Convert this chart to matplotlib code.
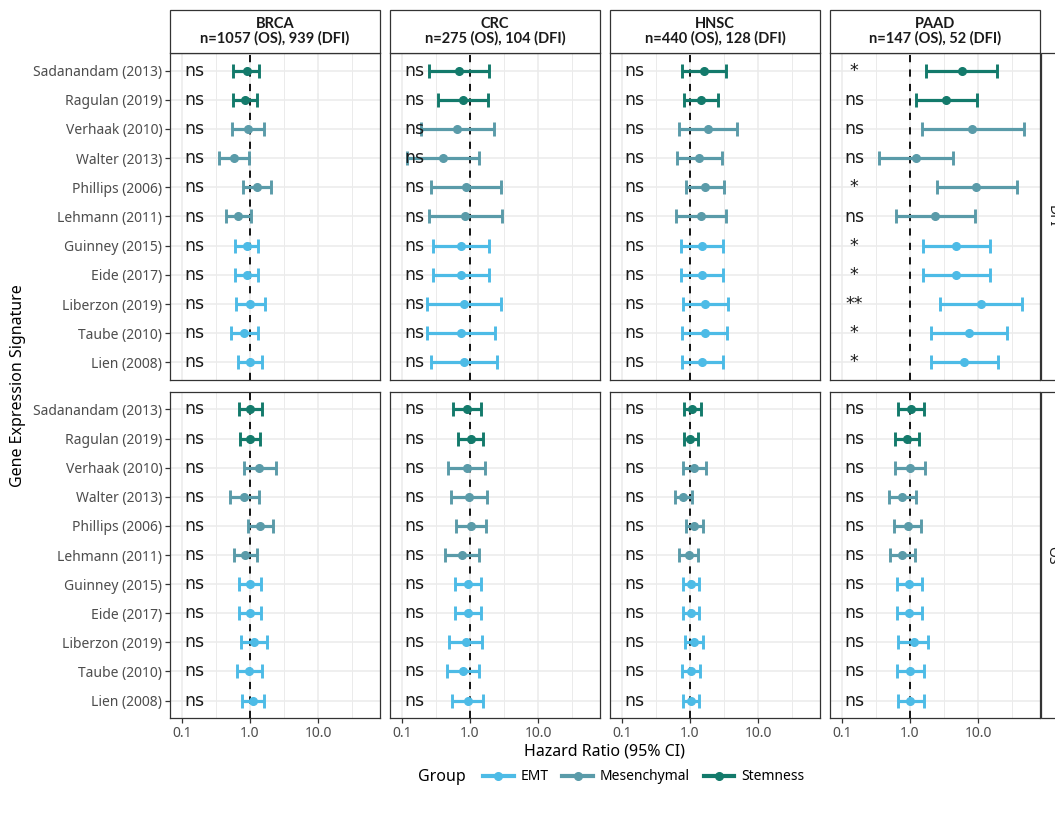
import matplotlib
matplotlib.use("Agg")
import matplotlib.pyplot as plt
from matplotlib.lines import Line2D
from matplotlib.patches import Rectangle

# signatures, top to bottom
signatures = ["Sadanandam (2013)", "Ragulan (2019)", "Verhaak (2010)", "Walter (2013)",
              "Phillips (2006)", "Lehmann (2011)", "Guinney (2015)", "Eide (2017)",
              "Liberzon (2019)", "Taube (2010)", "Lien (2008)"]
groups = ["Stemness", "Stemness", "Mesenchymal", "Mesenchymal", "Mesenchymal", "Mesenchymal",
          "EMT", "EMT", "EMT", "EMT", "EMT"]
group_colors = {"EMT": "#4DBBE6", "Mesenchymal": "#5A9BA9", "Stemness": "#137A6B"}

cancers = ["BRCA", "CRC", "HNSC", "PAAD"]
strip_titles = ["n=1057 (OS), 939 (DFI)", "n=275 (OS), 104 (DFI)",
                "n=440 (OS), 128 (DFI)", "n=147 (OS), 52 (DFI)"]
endpoints = ["DFI", "OS"]

# DFI
brca_dfi_hr = [0.89, 0.84, 0.95, 0.59, 1.25, 0.67, 0.89, 0.89, 1.00, 0.83, 1.00]
brca_dfi_lo = [0.57, 0.57, 0.54, 0.35, 0.78, 0.44, 0.60, 0.60, 0.62, 0.53, 0.66]
brca_dfi_hi = [1.36, 1.25, 1.62, 0.97, 2.02, 1.02, 1.33, 1.33, 1.66, 1.30, 1.52]

crc_dfi_hr = [0.69, 0.80, 0.65, 0.40, 0.87, 0.84, 0.74, 0.74, 0.82, 0.74, 0.82]
crc_dfi_lo = [0.25, 0.34, 0.19, 0.12, 0.27, 0.25, 0.29, 0.29, 0.235, 0.23, 0.27]
crc_dfi_hi = [1.90, 1.86, 2.25, 1.36, 2.86, 2.92, 1.90, 1.90, 2.86, 2.33, 2.47]

hnsc_dfi_hr = [1.62, 1.45, 1.82, 1.37, 1.66, 1.45, 1.52, 1.52, 1.66, 1.66, 1.52]
hnsc_dfi_lo = [0.76, 0.82, 0.69, 0.65, 0.86, 0.62, 0.73, 0.73, 0.80, 0.77, 0.77]
hnsc_dfi_hi = [3.38, 2.61, 4.86, 2.92, 3.16, 3.38, 3.09, 3.09, 3.59, 3.47, 3.03]

paad_dfi_hr = [5.76, 3.38, 8.2, 1.23, 9.34, 2.33, 4.75, 4.75, 11.1, 7.36, 6.22]
paad_dfi_lo = [1.70, 1.23, 1.49, 0.35, 2.47, 0.62, 1.54, 1.54, 2.76, 2.03, 2.03]
paad_dfi_hi = [18.8, 9.6, 47.0, 4.34, 37.0, 9.03, 15.0, 15.0, 44.6, 26.4, 19.9]
paad_dfi_sig = ["*", "ns", "ns", "ns", "*", "ns", "*", "*", "**", "*", "*"]

# OS
brca_os_hr = [1.00, 1.00, 1.37, 0.83, 1.40, 0.84, 1.00, 1.00, 1.15, 0.98, 1.12]
brca_os_lo = [0.69, 0.71, 0.82, 0.51, 0.92, 0.58, 0.70, 0.70, 0.73, 0.65, 0.77]
brca_os_hi = [1.49, 1.40, 2.39, 1.36, 2.15, 1.25, 1.45, 1.45, 1.76, 1.49, 1.61]

crc_os_hr = [0.91, 1.02, 0.89, 0.97, 1.02, 0.77, 0.95, 0.95, 0.86, 0.78, 0.92]
crc_os_lo = [0.57, 0.67, 0.48, 0.53, 0.62, 0.43, 0.60, 0.60, 0.49, 0.46, 0.55]
crc_os_hi = [1.45, 1.54, 1.66, 1.80, 1.70, 1.37, 1.45, 1.45, 1.52, 1.36, 1.57]

hnsc_os_hr = [1.06, 1.00, 1.15, 0.80, 1.15, 0.97, 1.02, 1.02, 1.15, 1.02, 1.02]
hnsc_os_lo = [0.82, 0.82, 0.78, 0.60, 0.86, 0.70, 0.78, 0.78, 0.84, 0.77, 0.80]
hnsc_os_hi = [1.44, 1.30, 1.70, 1.08, 1.54, 1.32, 1.36, 1.36, 1.54, 1.40, 1.37]

paad_os_hr = [1.02, 0.89, 1.00, 0.76, 0.92, 0.76, 0.98, 0.98, 1.15, 1.00, 1.00]
paad_os_lo = [0.66, 0.60, 0.60, 0.49, 0.59, 0.50, 0.65, 0.65, 0.67, 0.65, 0.66]
paad_os_hi = [1.61, 1.36, 1.66, 1.21, 1.45, 1.19, 1.52, 1.52, 1.86, 1.61, 1.62]

ns_all = ["ns"] * len(signatures)

panels = {
    ("DFI", "BRCA"): (brca_dfi_hr, brca_dfi_lo, brca_dfi_hi, ns_all),
    ("DFI", "CRC"): (crc_dfi_hr, crc_dfi_lo, crc_dfi_hi, ns_all),
    ("DFI", "HNSC"): (hnsc_dfi_hr, hnsc_dfi_lo, hnsc_dfi_hi, ns_all),
    ("DFI", "PAAD"): (paad_dfi_hr, paad_dfi_lo, paad_dfi_hi, paad_dfi_sig),
    ("OS", "BRCA"): (brca_os_hr, brca_os_lo, brca_os_hi, ns_all),
    ("OS", "CRC"): (crc_os_hr, crc_os_lo, crc_os_hi, ns_all),
    ("OS", "HNSC"): (hnsc_os_hr, hnsc_os_lo, hnsc_os_hi, ns_all),
    ("OS", "PAAD"): (paad_os_hr, paad_os_lo, paad_os_hi, ns_all),
}

plt.rcParams["font.family"] = ["Noto Sans", "DejaVu Sans"]

W, H = 1055, 816
fig = plt.figure(figsize=(W / 100, H / 100), dpi=100)

border = "#333333"
grid = "#EBEBEB"
panel_x = [170, 390, 610, 830]
panel_w = 210
row_y = [(53, 380), (392, 718)]
ypos = list(range(len(signatures)))

for r, ep in enumerate(endpoints):
    top, bot = row_y[r]
    for c, cancer in enumerate(cancers):
        ax = fig.add_axes([panel_x[c] / W, 1 - bot / H, panel_w / W, (bot - top) / H])
        hr, lo, hi, sig = panels[(ep, cancer)]
        ax.set_xscale("log")
        ax.set_xlim(0.0667, 81.6)
        ax.set_ylim(len(signatures) - 0.4, -0.6)
        ax.set_xticks([0.1, 1, 10])
        ax.set_xticks([10 ** -0.5, 10 ** 0.5, 10 ** 1.5], minor=True)
        ax.set_xticklabels(["0.1", "1.0", "10.0"])
        ax.set_yticks(ypos)
        ax.set_yticklabels(signatures)
        ax.grid(True, which="major", color=grid, lw=1.1)
        ax.grid(True, which="minor", axis="x", color=grid, lw=0.7)
        ax.set_axisbelow(True)
        for s in ax.spines.values():
            s.set_color(border)
            s.set_linewidth(0.9)
        ax.tick_params(which="minor", length=0)
        ax.tick_params(which="major", length=3.5, width=0.9, color=border,
                       labelsize=10, labelcolor="#4D4D4D", pad=2)
        if c != 0:
            ax.tick_params(axis="y", left=False, labelleft=False)
        if r != 1:
            ax.tick_params(axis="x", bottom=False, labelbottom=False)

        ax.axvline(1, color="black", lw=1.3, ls=(0, (4, 4)), zorder=3)
        for i in ypos:
            col = group_colors[groups[i]]
            ax.errorbar(hr[i], i, xerr=[[hr[i] - lo[i]], [hi[i] - hr[i]]], fmt="o",
                        color=col, ms=5.5, elinewidth=2.3, capsize=5, capthick=2.1, zorder=4)
            ax.text(0.15, i, sig[i], ha="center", va="center", fontsize=12.5,
                    family="DejaVu Sans", color="#1A1A1A", zorder=5)

        # top strips
        if r == 0:
            fig.patches.append(Rectangle((panel_x[c] / W, 1 - 53 / H), panel_w / W, 43 / H,
                                         transform=fig.transFigure, facecolor="white",
                                         edgecolor=border, lw=0.9))
            fig.text((panel_x[c] + panel_w / 2) / W, 1 - 31.5 / H,
                     cancer + "\n" + strip_titles[c], ha="center", va="center",
                     fontsize=10.5, fontweight="bold", family=["Lato", "DejaVu Sans"],
                     color="#1A1A1A", linespacing=1.0)

    # right strips (cut at the figure edge, as in the source image)
    fig.patches.append(Rectangle((1041 / W, 1 - bot / H), 30 / W, (bot - top) / H,
                                 transform=fig.transFigure, facecolor="white",
                                 edgecolor=border, lw=0.9))
    fig.text(1052 / W, 1 - (top + bot) / 2 / H, ep, rotation=-90, ha="center", va="center",
             fontsize=10, color="#1A1A1A")

fig.text(18 / W, 1 - 386 / H, "Gene Expression Signature", rotation=90,
         ha="center", va="center", fontsize=11.5)
fig.text(605 / W, 1 - 752 / H, "Hazard Ratio (95% CI)", ha="center", va="center", fontsize=11.5)

fig.text(418 / W, 1 - 777 / H, "Group", ha="left", va="center", fontsize=11.5)
handles = [Line2D([0], [0], color=group_colors[g], lw=3, marker="o", ms=5.5)
           for g in ["EMT", "Mesenchymal", "Stemness"]]
fig.legend(handles, ["EMT", "Mesenchymal", "Stemness"], loc="center left",
           bbox_to_anchor=(476 / W, 1 - 777 / H), ncol=3, frameon=False, fontsize=10,
           handlelength=2.2, handletextpad=0.5, columnspacing=1.0, borderpad=0)

fig.savefig("out.png", dpi=100)
